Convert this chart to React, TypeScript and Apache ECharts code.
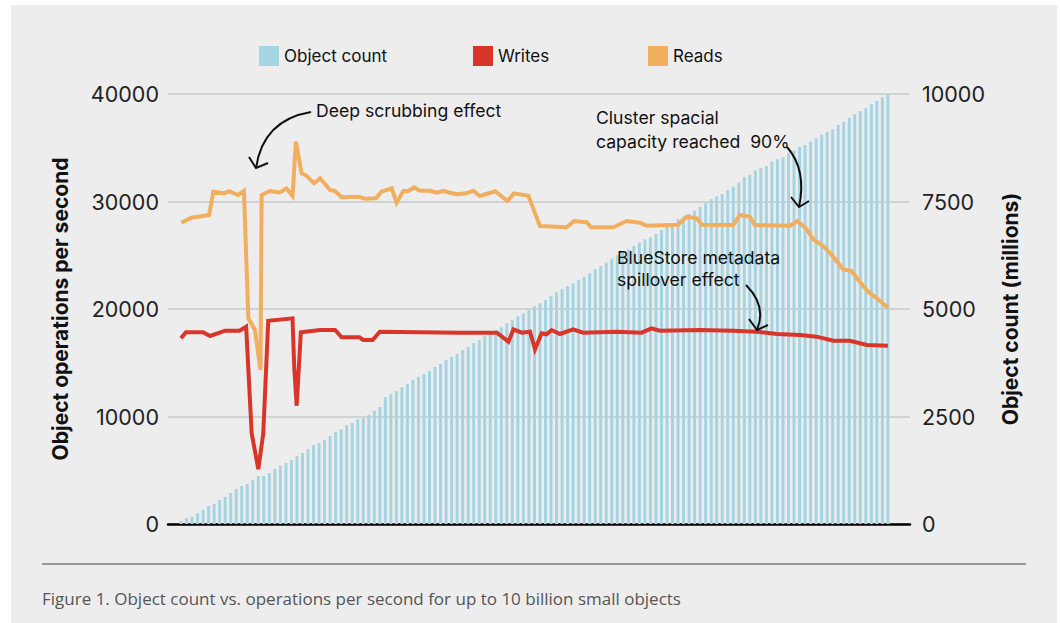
import React, { useEffect, useRef } from "react";
import * as echarts from "echarts";

// Object count (millions), one bar per measurement step
const objectCountMillions = [
  70, 140, 165, 255, 325, 420, 465, 560, 630, 720,
  815, 885, 930, 1025, 1115, 1120, 1185, 1280, 1350, 1420,
  1490, 1580, 1650, 1745, 1835, 1885, 1955, 2045, 2140, 2200,
  2300, 2350, 2440, 2465, 2535, 2630, 2720, 2955, 3025, 3095,
  3185, 3255, 3350, 3420, 3490, 3560, 3650, 3720, 3815, 3885,
  3955, 4045, 4115, 4210, 4280, 4375, 4435, 4505, 4575, 4670,
  4740, 4830, 4900, 4970, 5070, 5135, 5210, 5305, 5390, 5460,
  5535, 5600, 5675, 5750, 5830, 5925, 6000, 6080, 6170, 6250,
  6320, 6390, 6465, 6545, 6620, 6670, 6745, 6840, 6915, 6995,
  7085, 7150, 7210, 7290, 7380, 7475, 7550, 7615, 7675, 7770,
  7845, 7940, 8065, 8120, 8220, 8275, 8325, 8430, 8485, 8530,
  8625, 8685, 8775, 8815, 8895, 8970, 9050, 9125, 9180, 9280,
  9355, 9450, 9530, 9605, 9670, 9770, 9845, 9925, 10000,
];
const steps = objectCountMillions.map((_, i) => i + 1);

// Writes (object operations per second)
const writesStep = [
  1, 1.9, 5.0, 6.25, 9.0, 11.6, 12.8, 13.8, 15.0, 15.9,
  16.8, 21.2, 21.5, 21.95, 22.7, 26.2, 28.9, 30.1, 33.3, 34.0,
  35.7, 37.0, 51.5, 58.2, 60.3, 61.2, 62.7, 64.2, 65.1, 66.3,
  67.2, 68.1, 69.6, 72.0, 73.8, 79.9, 84.4, 86.2, 87.7, 95.0,
  101.0, 105.2, 108.9, 113.1, 116.1, 119.1, 122.1, 125.2, 129,
];
const writesOps = [
  17270, 17830, 17830, 17490, 17980, 17980, 18355, 8435, 5100, 8435,
  18910, 19130, 14630, 11000, 17830, 18045, 18045, 17365, 17365, 17115,
  17115, 17890, 17800, 17800, 16960, 18110, 17800, 17890, 16250, 17740,
  17645, 18045, 17675, 18110, 17800, 17890, 17800, 18200, 17980, 18045,
  17980, 17890, 17675, 17580, 17425, 17050, 17050, 16650, 16585,
];

// Reads (object operations per second)
const readsStep = [
  1.1, 2.9, 6.1, 6.85, 8.7, 9.75, 11.3, 12.4, 13.2, 14.4,
  15.4, 15.6, 17.1, 18.9, 20.1, 21.2, 21.8, 22.85, 23.8, 25.1,
  26.2, 28.0, 28.9, 30.1, 33.1, 34.3, 36.3, 37.3, 39.15, 40.05,
  41.25, 42.2, 43.2, 44.3, 46.1, 47.3, 48.5, 49.7, 51.0, 52.7,
  53.9, 55.1, 57.9, 60.1, 61.3, 63.9, 66.0, 70.8, 72.2, 74.5,
  75.2, 79.3, 81.7, 84.1, 85.3, 91.0, 92.6, 94.4, 95.3, 101.0,
  102.2, 104.0, 104.9, 111.3, 112.6, 114.3, 115.5, 117.3, 119.1, 120.9,
  122.4, 123.9, 125.4, 127.0, 129,
];
const readsOps = [
  28030, 28490, 28740, 30910, 30760, 30950, 30600, 30975, 19130, 18050,
  14330, 30600, 30975, 30850, 31225, 30510, 35560, 32620, 32370, 31690,
  32160, 31070, 30975, 30390, 30450, 30260, 30300, 30910, 31225, 29890,
  30975, 30975, 31320, 31000, 31000, 30820, 31000, 30820, 30680, 30760,
  31000, 30510, 30950, 30045, 30760, 30540, 27720, 27600, 28185, 28065,
  27600, 27600, 28185, 28030, 27750, 27840, 28585, 28435, 27840, 27810,
  28740, 28585, 27810, 27750, 28185, 27410, 26480, 25860, 24865, 23690,
  23535, 22540, 21610, 20995, 20120,
];

const opsTicks = [0, 10000, 20000, 30000, 40000];
const countTicks = [0, 2500, 5000, 7500, 10000];
const legendNames = ["Object count", "Writes", "Reads"];

const FONT = "Inter, 'Noto Sans', sans-serif";
const CAPTION_FONT = "'Open Sans', 'Noto Sans', sans-serif";
const C_BAR = "#a5d4e2";
const C_WRITE = "#d9352a";
const C_READ = "#f0ae5e";
const C_BG = "#ededed";

export default function App() {
  const ref = useRef<HTMLDivElement>(null);
  useEffect(() => {
    if (!ref.current) return;
    const chart = echarts.init(ref.current, undefined, { renderer: "svg" });
    const annText = (x: number, y: number, text: string) => ({
      type: "text",
      x,
      y,
      z: 100,
      style: { text, fontSize: 17.6, fontFamily: FONT, fill: "#111", verticalAlign: "middle" },
    });
    const arrowStyle = { stroke: "#111", lineWidth: 2, fill: "none" };
    const legendBase = {
      top: 46,
      padding: 0,
      itemWidth: 20,
      itemHeight: 20,
      icon: "rect",
      textStyle: { fontSize: 17, fontFamily: FONT, color: "#111" },
      selectedMode: false,
    };
    chart.setOption({
      animation: false,
      backgroundColor: "transparent",
      grid: { left: 168, right: 150, top: 94, bottom: 99, containLabel: false },
      legend: [
        { ...legendBase, left: 259, data: [legendNames[0]] },
        { ...legendBase, left: 473, data: [legendNames[1]] },
        { ...legendBase, left: 648, data: [legendNames[2]] },
      ],
      xAxis: {
        type: "value",
        min: -1.35,
        max: 133,
        axisLine: { show: true, onZero: false, lineStyle: { color: "#000", width: 2.5 } },
        axisTick: { show: false },
        axisLabel: { show: false },
        splitLine: { show: false },
      },
      yAxis: [
        {
          type: "value",
          min: opsTicks[0],
          max: opsTicks[opsTicks.length - 1],
          interval: opsTicks[1] - opsTicks[0],
          name: "Object operations per second",
          nameLocation: "middle",
          nameRotate: 90,
          nameGap: 97,
          nameTextStyle: { fontSize: 21, fontWeight: "bold", fontFamily: FONT, color: "#111" },
          axisLine: { show: false },
          axisTick: { show: false },
          axisLabel: { fontSize: 21.5, fontFamily: FONT, color: "#222", margin: 9, formatter: (v: number) => String(v) },
          splitLine: { show: true, lineStyle: { color: "#d2d2d2", width: 2 } },
        },
        {
          type: "value",
          min: countTicks[0],
          max: countTicks[countTicks.length - 1],
          interval: countTicks[1] - countTicks[0],
          name: "Object count (millions)",
          nameLocation: "middle",
          nameRotate: 90,
          nameGap: 90,
          nameTextStyle: { fontSize: 21, fontWeight: "bold", fontFamily: FONT, color: "#111" },
          axisLine: { show: false },
          axisTick: { show: false },
          axisLabel: { fontSize: 21.5, fontFamily: FONT, color: "#222", margin: 12, formatter: (v: number) => String(v) },
          splitLine: { show: false },
        },
      ],
      series: [
        {
          name: legendNames[0],
          type: "bar",
          yAxisIndex: 1,
          barWidth: 3,
          itemStyle: { color: C_BAR },
          data: steps.map((s, i) => [s, objectCountMillions[i]]),
        },
        {
          name: legendNames[1],
          type: "line",
          yAxisIndex: 0,
          showSymbol: false,
          symbol: "none",
          itemStyle: { color: C_WRITE },
          lineStyle: { color: C_WRITE, width: 4, join: "miter", miterLimit: 10 },
          data: writesStep.map((s, i) => [s, writesOps[i]]),
        },
        {
          name: legendNames[2],
          type: "line",
          yAxisIndex: 0,
          showSymbol: false,
          symbol: "none",
          itemStyle: { color: C_READ },
          lineStyle: { color: C_READ, width: 4, join: "miter", miterLimit: 10 },
          data: readsStep.map((s, i) => [s, readsOps[i]]),
        },
      ],
      graphic: [
        { type: "rect", z: -10, silent: true, shape: { x: 11, y: 5, width: 1046, height: 618 }, style: { fill: C_BG } },
        { type: "line", z: 1, shape: { x1: 42, y1: 564, x2: 1026, y2: 564 }, style: { stroke: "#7a7a7a", lineWidth: 1.5 } },
        {
          type: "text",
          x: 42,
          y: 598,
          style: {
            text: "Figure 1. Object count vs. operations per second for up to 10 billion small objects",
            fontSize: 17,
            fontFamily: CAPTION_FONT,
            fill: "#555",
            verticalAlign: "middle",
          },
        },
        annText(316, 110, "Deep scrubbing effect"),
        { type: "bezierCurve", z: 100, shape: { x1: 311, y1: 112, cpx1: 263, cpy1: 120, x2: 256, y2: 168 }, style: arrowStyle },
        { type: "polyline", z: 100, shape: { points: [[249, 157], [256, 168], [268, 163]] }, style: arrowStyle },
        annText(596, 117, "Cluster spacial"),
        annText(596, 141, "capacity reached  90%"),
        { type: "bezierCurve", z: 100, shape: { x1: 787, y1: 147, cpx1: 807, cpy1: 170, x2: 799, y2: 207 }, style: arrowStyle },
        { type: "polyline", z: 100, shape: { points: [[791, 197], [799, 207], [809, 201]] }, style: arrowStyle },
        annText(617, 257, "BlueStore metadata"),
        annText(617, 279, "spillover effect"),
        { type: "bezierCurve", z: 100, shape: { x1: 746, y1: 285, cpx1: 767, cpy1: 306, x2: 757, y2: 330 }, style: arrowStyle },
        { type: "polyline", z: 100, shape: { points: [[749, 319], [757, 330], [768, 325]] }, style: arrowStyle },
      ],
    });
    return () => chart.dispose();
  }, []);
  return (
    <div
      ref={ref}
      style={{ position: "absolute", left: 0, top: 0, width: 1060, height: 623, background: "#fff" }}
    />
  );
}
